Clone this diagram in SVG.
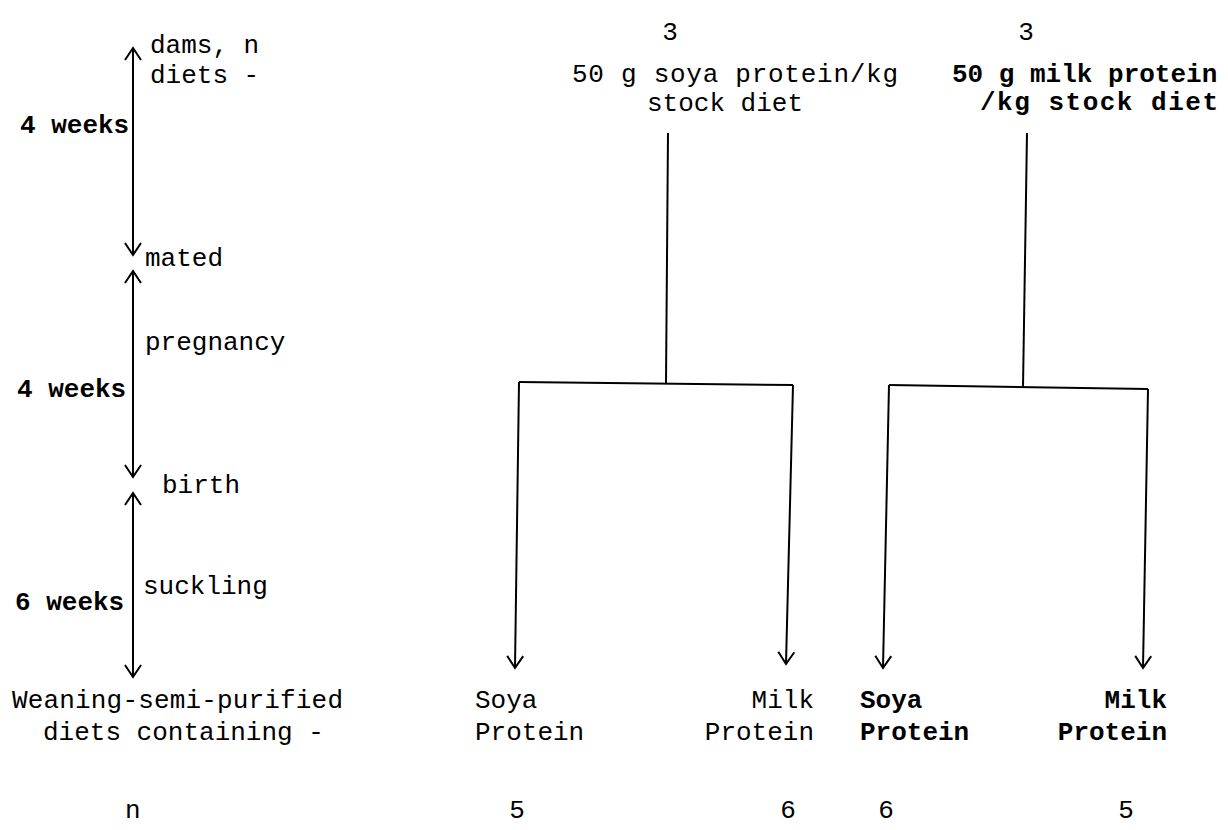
<svg xmlns="http://www.w3.org/2000/svg" width="1228" height="830" viewBox="0 0 1228 830">
  <style>
    text { font-family: "Liberation Mono", "Courier New", monospace; font-size: 26px; fill: #000; }
    .b { font-weight: bold; }
    .num { text-anchor: middle; }
    .end { text-anchor: end; }
    .ln { stroke: #000; stroke-width: 2; fill: none; }
    .arr { marker-end: url(#ah); }
    .dbl { marker-start: url(#ah); marker-end: url(#ah); }
  </style>
  <defs>
    <marker id="ah" viewBox="-14 -10 16 20" refX="0" refY="0" markerWidth="16" markerHeight="20" markerUnits="userSpaceOnUse" orient="auto-start-reverse">
      <path d="M -12 -8 L 0 0 L -12 8" fill="none" stroke="#000" stroke-width="2"/>
    </marker>
  </defs>
  <rect width="1228" height="830" fill="#fff"/>

  <g id="timeline">
    <line class="ln dbl" x1="133" y1="48" x2="133" y2="255"/>
    <line class="ln dbl" x1="133" y1="271" x2="133" y2="477"/>
    <line class="ln dbl" x1="133" y1="493" x2="133" y2="677"/>
    <text x="150" y="53">dams, n</text>
    <text x="150" y="83">diets -</text>
    <text class="b" x="20" y="133">4 weeks</text>
    <text x="145" y="266">mated</text>
    <text x="145" y="350">pregnancy</text>
    <text class="b" x="17" y="397">4 weeks</text>
    <text x="162" y="493">birth</text>
    <text x="143" y="594">suckling</text>
    <text class="b" x="15" y="610">6 weeks</text>
    <text x="12" y="708" textLength="331">Weaning-semi-purified</text>
    <text x="43" y="740">diets containing -</text>
    <text x="125" y="818">n</text>
  </g>

  <g id="soya-dams">
    <text class="num" x="670" y="40">3</text>
    <text x="572" y="82" textLength="326">50 g soya protein/kg</text>
    <text x="647" y="111">stock diet</text>
  </g>

  <g id="milk-dams">
    <text class="num" x="1026" y="40">3</text>
    <text class="b" x="952" y="82">50 g milk protein</text>
    <text class="b" x="980" y="110" textLength="238">/kg stock diet</text>
  </g>

  <g id="pups-soya-soya">
    <text x="475" y="708">Soya</text>
    <text x="475" y="740">Protein</text>
    <text class="num" x="517" y="818">5</text>
  </g>
  <g id="pups-soya-milk">
    <text class="end" x="814" y="708">Milk</text>
    <text class="end" x="814" y="740">Protein</text>
    <text class="num" x="788" y="818">6</text>
  </g>
  <g id="pups-milk-soya">
    <text class="b" x="860" y="708">Soya</text>
    <text class="b" x="860" y="740">Protein</text>
    <text class="num" x="886" y="818">6</text>
  </g>
  <g id="pups-milk-milk">
    <text class="b end" x="1167" y="708">Milk</text>
    <text class="b end" x="1167" y="740">Protein</text>
    <text class="num" x="1126" y="818">5</text>
  </g>

  <g id="connectors">
    <line class="ln" x1="668" y1="133" x2="666" y2="383"/>
    <line class="ln" x1="519" y1="382" x2="793" y2="385"/>
    <line class="ln arr" x1="519" y1="382" x2="515" y2="668"/>
    <line class="ln arr" x1="793" y1="385" x2="786" y2="664"/>
    <line class="ln" x1="1027" y1="133" x2="1023" y2="387"/>
    <line class="ln" x1="889" y1="385" x2="1148" y2="389"/>
    <line class="ln arr" x1="889" y1="385" x2="883" y2="668"/>
    <line class="ln arr" x1="1148" y1="389" x2="1143" y2="668"/>
  </g>
</svg>
